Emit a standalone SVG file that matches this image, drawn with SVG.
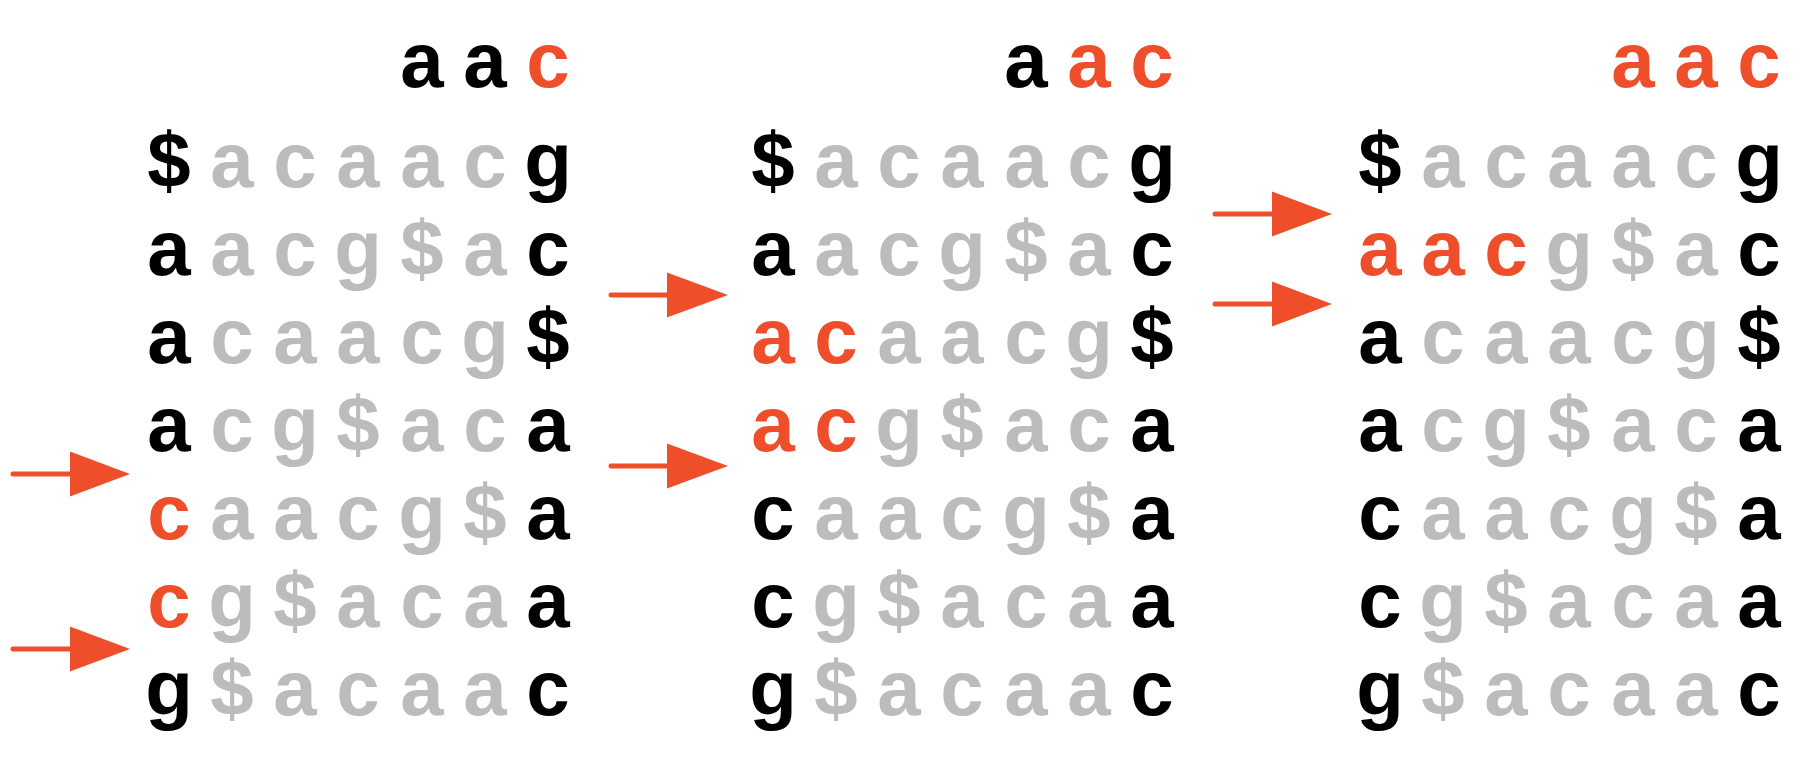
<svg xmlns="http://www.w3.org/2000/svg" width="1811" height="761" viewBox="0 0 1811 761">
<style>
text{font-family:"Liberation Sans",Arial,Helvetica,sans-serif;font-weight:bold;font-size:78px;text-anchor:middle}
.k{fill:#000}
.g{fill:#BBBCBE}
.r{fill:#EE4F2A}
.shaft{stroke:#EE4F2A;stroke-width:5;stroke-linecap:round;fill:none}
.head{fill:#EE4F2A}
</style>
<rect width="1811" height="761" fill="#fff"/>
<g id="panel1">
<text y="87"><tspan x="422" class="k">a</tspan><tspan x="485" class="k">a</tspan><tspan x="548" class="r">c</tspan></text>
<text y="187"><tspan x="169" class="k">$</tspan><tspan x="232" class="g">a</tspan><tspan x="295" class="g">c</tspan><tspan x="358" class="g">a</tspan><tspan x="422" class="g">a</tspan><tspan x="485" class="g">c</tspan><tspan x="548" class="k">g</tspan></text>
<text y="275"><tspan x="169" class="k">a</tspan><tspan x="232" class="g">a</tspan><tspan x="295" class="g">c</tspan><tspan x="358" class="g">g</tspan><tspan x="422" class="g">$</tspan><tspan x="485" class="g">a</tspan><tspan x="548" class="k">c</tspan></text>
<text y="363"><tspan x="169" class="k">a</tspan><tspan x="232" class="g">c</tspan><tspan x="295" class="g">a</tspan><tspan x="358" class="g">a</tspan><tspan x="422" class="g">c</tspan><tspan x="485" class="g">g</tspan><tspan x="548" class="k">$</tspan></text>
<text y="451"><tspan x="169" class="k">a</tspan><tspan x="232" class="g">c</tspan><tspan x="295" class="g">g</tspan><tspan x="358" class="g">$</tspan><tspan x="422" class="g">a</tspan><tspan x="485" class="g">c</tspan><tspan x="548" class="k">a</tspan></text>
<text y="539"><tspan x="169" class="r">c</tspan><tspan x="232" class="g">a</tspan><tspan x="295" class="g">a</tspan><tspan x="358" class="g">c</tspan><tspan x="422" class="g">g</tspan><tspan x="485" class="g">$</tspan><tspan x="548" class="k">a</tspan></text>
<text y="627"><tspan x="169" class="r">c</tspan><tspan x="232" class="g">g</tspan><tspan x="295" class="g">$</tspan><tspan x="358" class="g">a</tspan><tspan x="422" class="g">c</tspan><tspan x="485" class="g">a</tspan><tspan x="548" class="k">a</tspan></text>
<text y="715"><tspan x="169" class="k">g</tspan><tspan x="232" class="g">$</tspan><tspan x="295" class="g">a</tspan><tspan x="358" class="g">c</tspan><tspan x="422" class="g">a</tspan><tspan x="485" class="g">a</tspan><tspan x="548" class="k">c</tspan></text>
</g>
<g id="panel2">
<text y="87"><tspan x="1026" class="k">a</tspan><tspan x="1089" class="r">a</tspan><tspan x="1152" class="r">c</tspan></text>
<text y="187"><tspan x="773" class="k">$</tspan><tspan x="836" class="g">a</tspan><tspan x="899" class="g">c</tspan><tspan x="962" class="g">a</tspan><tspan x="1026" class="g">a</tspan><tspan x="1089" class="g">c</tspan><tspan x="1152" class="k">g</tspan></text>
<text y="275"><tspan x="773" class="k">a</tspan><tspan x="836" class="g">a</tspan><tspan x="899" class="g">c</tspan><tspan x="962" class="g">g</tspan><tspan x="1026" class="g">$</tspan><tspan x="1089" class="g">a</tspan><tspan x="1152" class="k">c</tspan></text>
<text y="363"><tspan x="773" class="r">a</tspan><tspan x="836" class="r">c</tspan><tspan x="899" class="g">a</tspan><tspan x="962" class="g">a</tspan><tspan x="1026" class="g">c</tspan><tspan x="1089" class="g">g</tspan><tspan x="1152" class="k">$</tspan></text>
<text y="451"><tspan x="773" class="r">a</tspan><tspan x="836" class="r">c</tspan><tspan x="899" class="g">g</tspan><tspan x="962" class="g">$</tspan><tspan x="1026" class="g">a</tspan><tspan x="1089" class="g">c</tspan><tspan x="1152" class="k">a</tspan></text>
<text y="539"><tspan x="773" class="k">c</tspan><tspan x="836" class="g">a</tspan><tspan x="899" class="g">a</tspan><tspan x="962" class="g">c</tspan><tspan x="1026" class="g">g</tspan><tspan x="1089" class="g">$</tspan><tspan x="1152" class="k">a</tspan></text>
<text y="627"><tspan x="773" class="k">c</tspan><tspan x="836" class="g">g</tspan><tspan x="899" class="g">$</tspan><tspan x="962" class="g">a</tspan><tspan x="1026" class="g">c</tspan><tspan x="1089" class="g">a</tspan><tspan x="1152" class="k">a</tspan></text>
<text y="715"><tspan x="773" class="k">g</tspan><tspan x="836" class="g">$</tspan><tspan x="899" class="g">a</tspan><tspan x="962" class="g">c</tspan><tspan x="1026" class="g">a</tspan><tspan x="1089" class="g">a</tspan><tspan x="1152" class="k">c</tspan></text>
</g>
<g id="panel3">
<text y="87"><tspan x="1633" class="r">a</tspan><tspan x="1696" class="r">a</tspan><tspan x="1759" class="r">c</tspan></text>
<text y="187"><tspan x="1380" class="k">$</tspan><tspan x="1443" class="g">a</tspan><tspan x="1506" class="g">c</tspan><tspan x="1569" class="g">a</tspan><tspan x="1633" class="g">a</tspan><tspan x="1696" class="g">c</tspan><tspan x="1759" class="k">g</tspan></text>
<text y="275"><tspan x="1380" class="r">a</tspan><tspan x="1443" class="r">a</tspan><tspan x="1506" class="r">c</tspan><tspan x="1569" class="g">g</tspan><tspan x="1633" class="g">$</tspan><tspan x="1696" class="g">a</tspan><tspan x="1759" class="k">c</tspan></text>
<text y="363"><tspan x="1380" class="k">a</tspan><tspan x="1443" class="g">c</tspan><tspan x="1506" class="g">a</tspan><tspan x="1569" class="g">a</tspan><tspan x="1633" class="g">c</tspan><tspan x="1696" class="g">g</tspan><tspan x="1759" class="k">$</tspan></text>
<text y="451"><tspan x="1380" class="k">a</tspan><tspan x="1443" class="g">c</tspan><tspan x="1506" class="g">g</tspan><tspan x="1569" class="g">$</tspan><tspan x="1633" class="g">a</tspan><tspan x="1696" class="g">c</tspan><tspan x="1759" class="k">a</tspan></text>
<text y="539"><tspan x="1380" class="k">c</tspan><tspan x="1443" class="g">a</tspan><tspan x="1506" class="g">a</tspan><tspan x="1569" class="g">c</tspan><tspan x="1633" class="g">g</tspan><tspan x="1696" class="g">$</tspan><tspan x="1759" class="k">a</tspan></text>
<text y="627"><tspan x="1380" class="k">c</tspan><tspan x="1443" class="g">g</tspan><tspan x="1506" class="g">$</tspan><tspan x="1569" class="g">a</tspan><tspan x="1633" class="g">c</tspan><tspan x="1696" class="g">a</tspan><tspan x="1759" class="k">a</tspan></text>
<text y="715"><tspan x="1380" class="k">g</tspan><tspan x="1443" class="g">$</tspan><tspan x="1506" class="g">a</tspan><tspan x="1569" class="g">c</tspan><tspan x="1633" class="g">a</tspan><tspan x="1696" class="g">a</tspan><tspan x="1759" class="k">c</tspan></text>
</g>
<g id="arrows">
<line class="shaft" x1="13" y1="474" x2="72" y2="474"/><polygon class="head" points="70,451.5 130,474 70,496.5"/>
<line class="shaft" x1="13" y1="649" x2="72" y2="649"/><polygon class="head" points="70,626.5 130,649 70,671.5"/>
<line class="shaft" x1="611" y1="295" x2="669" y2="295"/><polygon class="head" points="667,272.5 728,295 667,317.5"/>
<line class="shaft" x1="611" y1="466" x2="669" y2="466"/><polygon class="head" points="667,443.5 728,466 667,488.5"/>
<line class="shaft" x1="1215" y1="214" x2="1274" y2="214"/><polygon class="head" points="1272,191.5 1332,214 1272,236.5"/>
<line class="shaft" x1="1215" y1="304" x2="1274" y2="304"/><polygon class="head" points="1272,281.5 1332,304 1272,326.5"/>
</g>
</svg>
